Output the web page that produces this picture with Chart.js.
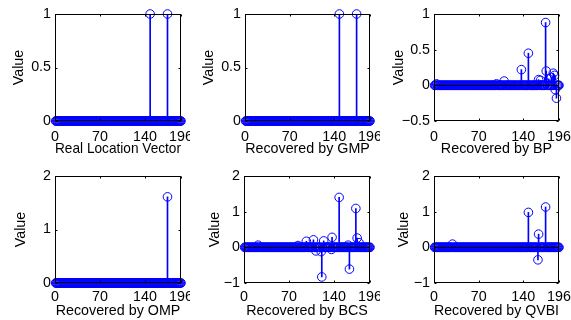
<!DOCTYPE html>
<html>
<head>
<meta charset="utf-8">
<script src="https://cdn.jsdelivr.net/npm/chart.js@4.4.0/dist/chart.umd.min.js"></script>
<style>
  body { margin: 0; background: #fff; width: 571px; height: 320px; position: relative; overflow: hidden; }
  canvas { position: absolute; }
</style>
</head>
<body>
<canvas id="real" style="left:0;top:0"></canvas>
<canvas id="gmp" style="left:190px;top:0"></canvas>
<canvas id="bp" style="left:380px;top:0"></canvas>
<canvas id="omp" style="left:0;top:160px"></canvas>
<canvas id="bcs" style="left:190px;top:160px"></canvas>
<canvas id="qvbi" style="left:380px;top:160px"></canvas>
<script>
// signal length and x ticks
const N = 196
const xTicks = [0, 70, 140, 196]

// nonzero entries of each vector (index, value), everything else is 0
const realIdx = [148, 175]
const realVal = [1, 1]
const gmpIdx = [148, 175]
const gmpVal = [1, 1]
const bpIdx = [4, 98, 110, 137, 148, 164, 167, 175, 176, 180, 184, 187, 189, 190, 192]
const bpVal = [0.02, 0.02, 0.06, 0.22, 0.45, 0.08, 0.07, 0.88, 0.2, 0.09, 0.11, 0.17, 0.14, -0.06, -0.18]
const ompIdx = [175]
const ompVal = [1.61]
const bcsIdx = [22, 84, 97, 108, 112, 120, 121, 124, 136, 137, 148, 162, 164, 174, 176, 179]
const bcsVal = [0.06, 0.05, 0.17, 0.21, -0.1, -0.12, -0.83, 0.18, -0.06, 0.28, 1.4, 0.06, -0.61, 1.09, 0.26, 0.13]
const qvbiIdx = [29, 148, 163, 164, 175]
const qvbiVal = [0.09, 0.98, -0.35, 0.37, 1.13]

// y ticks per panel
const yTicksA = [0, 0.5, 1]
const yTicksBP = [-0.5, 0, 0.5, 1]
const yTicksOMP = [0, 1, 2]
const yTicksB = [-1, 0, 1, 2]

const BLUE = '#0000ff'
const FONT = { family: '"Liberation Sans", Arial, sans-serif', size: 14.3 }

// black box + small inward ticks like matlab
const boxPlugin = {
  id: 'box',
  afterDraw(chart) {
    const { ctx, chartArea: a, scales: { x, y } } = chart
    const l = Math.round(a.left) + 0.5, r = Math.round(a.right) - 0.5
    const t = Math.round(a.top) + 0.5, b = Math.round(a.bottom) - 0.5
    ctx.save()
    ctx.strokeStyle = '#000'
    ctx.lineWidth = 1
    ctx.strokeRect(l, t, r - l, b - t)
    ctx.beginPath()
    x.ticks.forEach(tk => {
      const px = Math.round(x.getPixelForValue(tk.value)) + 0.5
      ctx.moveTo(px, b); ctx.lineTo(px, b - 2)
      ctx.moveTo(px, t); ctx.lineTo(px, t + 2)
    })
    y.ticks.forEach(tk => {
      const py = Math.round(y.getPixelForValue(tk.value)) + 0.5
      ctx.moveTo(l, py); ctx.lineTo(l + 2, py)
      ctx.moveTo(r, py); ctx.lineTo(r - 2, py)
    })
    ctx.stroke()
    ctx.restore()
  }
}

function fullVector(idx, vals) {
  const pts = []
  for (let i = 1; i <= N; i++) {
    const k = idx.indexOf(i)
    pts.push({ x: i, y: k >= 0 ? vals[k] : 0 })
  }
  return pts
}

// box: [canvas w, canvas h, plot left, plot right pad, plot top, x axis height, ylabel x, tick pad, title pad]
function stemPlot(id, idx, vals, label, yTicks, box) {
  const [w, h, left, rightPad, top, xH, yLabX, tickPad, titlePad] = box
  const cv = document.getElementById(id)
  cv.width = w
  cv.height = h
  const pts = fullVector(idx, vals)
  new Chart(cv, {
    type: 'scatter',
    plugins: [boxPlugin],
    data: {
      datasets: [
        {
          // baseline
          type: 'line',
          data: [{ x: xTicks[0], y: 0 }, { x: xTicks[xTicks.length - 1], y: 0 }],
          borderColor: '#000',
          borderWidth: 1,
          pointRadius: 0
        },
        {
          type: 'scatter',
          data: pts,
          showLine: false,
          pointRadius: 4.3,
          pointBorderColor: BLUE,
          pointBackgroundColor: 'rgba(0,0,0,0)',
          pointBorderWidth: 1,
          clip: false
        },
        {
          type: 'bar',
          data: pts,
          backgroundColor: BLUE,
          barThickness: 1,
          borderWidth: 0,
          grouped: false
        }
      ]
    },
    options: {
      responsive: false,
      animation: false,
      events: [],
      layout: { padding: { left: 0, right: rightPad, top: top, bottom: 0 } },
      plugins: { legend: { display: false }, tooltip: { enabled: false } },
      scales: {
        x: {
          type: 'linear',
          min: xTicks[0],
          max: xTicks[xTicks.length - 1],
          offset: false,
          afterBuildTicks: s => { s.ticks = xTicks.map(v => ({ value: v })) },
          afterFit: s => { s.height = xH; s.paddingLeft = 0; s.paddingRight = 0 },
          grid: { display: false, drawTicks: false },
          border: { display: false },
          ticks: { color: '#000', font: FONT, padding: tickPad, maxRotation: 0, autoSkip: false },
          title: { display: true, text: label, color: '#000', font: FONT, padding: { top: 0, bottom: titlePad } }
        },
        y: {
          type: 'linear',
          min: yTicks[0],
          max: yTicks[yTicks.length - 1],
          afterBuildTicks: s => { s.ticks = yTicks.map(v => ({ value: v })) },
          afterFit: s => { s.width = left; s.paddingTop = 0; s.paddingBottom = 0 },
          grid: { display: false, drawTicks: false },
          border: { display: false },
          ticks: {
            color: '#000', font: FONT, padding: 4,
            callback: v => (v < 0 ? '\u2212' + Math.abs(v) : String(v))
          },
          title: { display: true, text: 'Value', color: '#000', font: FONT, padding: { top: yLabX - 8.5, bottom: 0 } }
        }
      }
    }
  })
}

stemPlot('real', realIdx, realVal, 'Real Location Vector', yTicksA, [190, 160, 55, 9, 14, 39, 18.5, 7, 2.5])
stemPlot('gmp', gmpIdx, gmpVal, 'Recovered by GMP', yTicksA, [190, 160, 55, 10, 14, 39, 19, 7, 2.5])
stemPlot('bp', bpIdx, bpVal, 'Recovered by BP', yTicksBP, [191, 160, 54, 12, 14, 39, 18.5, 7, 2.5])
stemPlot('omp', ompIdx, ompVal, 'Recovered by OMP', yTicksOMP, [190, 160, 55, 9, 16, 37, 20.5, 5.5, 0])
stemPlot('bcs', bcsIdx, bcsVal, 'Recovered by BCS', yTicksB, [190, 160, 54, 10, 16, 37, 25, 5.5, 0])
stemPlot('qvbi', qvbiIdx, qvbiVal, 'Recovered by QVBI', yTicksB, [191, 160, 54, 12, 16, 37, 24, 5.5, 0])
</script>
</body>
</html>
